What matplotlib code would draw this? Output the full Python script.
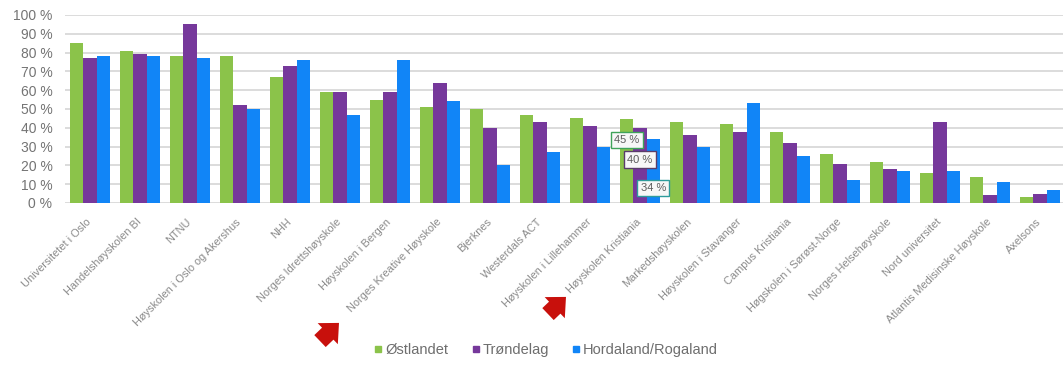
import matplotlib
matplotlib.use("Agg")
import matplotlib.pyplot as plt
import matplotlib.transforms as mtransforms
import numpy as np
from matplotlib.lines import Line2D

plt.rcParams['font.family'] = ['Liberation Sans', 'DejaVu Sans']

categories = ["Universitetet i Oslo", "Handelshøyskolen BI", "NTNU",
              "Høyskolen i Oslo og Akershus", "NHH", "Norges Idrettshøyskole",
              "Høyskolen i Bergen", "Norges Kreative Høyskole", "Bjerknes",
              "Westerdals ACT", "Høyskolen i Lillehammer", "Høyskolen Kristiania",
              "Markedshøyskolen", "Høyskolen i Stavanger", "Campus Kristiania",
              "Høgskolen i Sørøst-Norge", "Norges Helsehøyskole", "Nord universitet",
              "Atlantis Medisinske Høyskole", "Axelsons"]
series_names = ["Østlandet", "Trøndelag", "Hordaland/Rogaland"]
ostlandet = [85, 81, 78, 78, 67, 59, 55, 51, 50, 47, 45, 44.6, 43, 42, 38, 26, 22, 16, 14, 3]
trondelag = [77, 79, 95, 52, 73, 59, 59, 64, 40, 43, 41, 40, 36, 38, 32, 21, 18, 43, 4, 5]
hordaland = [78, 78, 77, 50, 76, 47, 76, 54, 20, 27, 30, 34, 30, 53, 25, 12, 17, 17, 11, 7]
yticks = list(range(0, 101, 10))
ytick_labels = [f"{t} %" for t in yticks]

colors = ["#8bc34a", "#76389b", "#1185f7"]

fig = plt.figure(figsize=(10.63, 3.65), dpi=100)
ax = fig.add_axes([65/1063, 162/365, 1000/1063, 188/365])

x = np.arange(len(categories))
w = 0.8 / 3
data = [ostlandet, trondelag, hordaland]
for i, (vals, c) in enumerate(zip(data, colors)):
    ax.bar(x + (i - 1) * w, vals, width=w, color=c, zorder=2, linewidth=0)

ax.set_xlim(-0.5, len(categories) - 0.5)
ax.set_ylim(0, 100)
ax.set_yticks(yticks)
ax.set_yticklabels(ytick_labels, fontsize=10, color="#747474")
ax.yaxis.grid(True, color="#dcdcdc", linewidth=1.4, zorder=0)
ax.set_axisbelow(True)
for s in ax.spines.values():
    s.set_visible(False)
ax.tick_params(axis='y', length=0, pad=9)
ax.tick_params(axis='x', length=0, pad=10)
ax.set_xticks(x)
ax.set_xticklabels(categories, rotation=45, ha='right', va='top',
                   rotation_mode='anchor', fontsize=7.9, color="#8a8a8a")
offset = mtransforms.ScaledTranslation(-4/100, 0, fig.dpi_scale_trans)
for lab in ax.get_xticklabels():
    lab.set_transform(lab.get_transform() + offset)

# annotation boxes for Høyskolen Kristiania
idx = categories.index("Høyskolen Kristiania")
label_y = [33.5, 23, 8]
box_edges = ["#3fa35a", "#5a3d6a", "#2f9c9c"]
for i, (vals, ly, ec) in enumerate(zip(data, label_y, box_edges)):
    ax.text(idx + (i - 1) * w, ly, f"{vals[idx]:.0f} %", ha='center', va='center',
            fontsize=8, color="#5c5c5c", zorder=5,
            bbox=dict(boxstyle="square,pad=0.3", fc="#f7f7f7", ec=ec, lw=1.0))

# red arrows
for (x0, y0, x1, y1) in [(318, 343, 341, 321), (546, 316, 568, 295)]:
    fig.patches.append(matplotlib.patches.FancyArrowPatch(
        (x0, 365 - y0), (x1, 365 - y1), transform=None,
        arrowstyle="simple,head_length=0.8,head_width=1.5,tail_width=0.85",
        mutation_scale=14, color="#c8100c", lw=0))

handles = [Line2D([0], [0], marker='s', linestyle='none', markersize=4.5,
                  markerfacecolor=c, markeredgecolor=c) for c in colors]
fig.legend(handles, series_names, loc='center', bbox_to_anchor=(546/1063, 1 - 350/365),
           ncol=3, frameon=False, fontsize=10.5, handlelength=0.6, handletextpad=0.15,
           columnspacing=1.6, labelcolor="#6e6e6e")

fig.savefig("out.png", dpi=100)
